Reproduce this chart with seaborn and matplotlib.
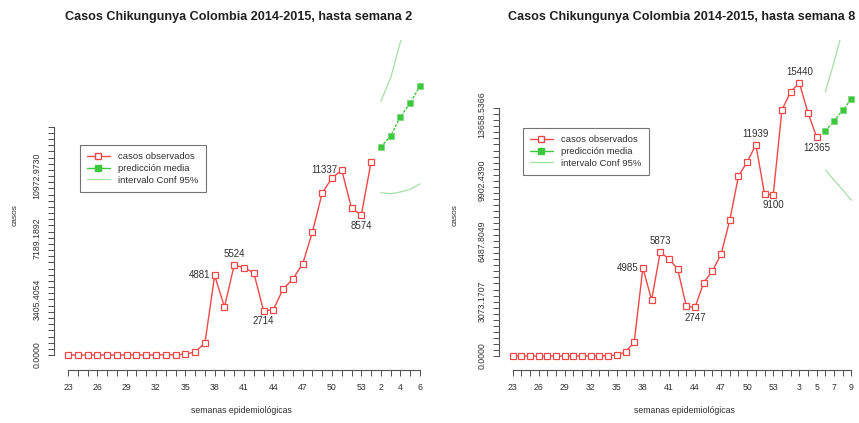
import numpy as np
import pandas as pd
import matplotlib
matplotlib.use("Agg")
import matplotlib.pyplot as plt
import seaborn as sns
from matplotlib.lines import Line2D
from matplotlib.ticker import FixedLocator, FixedFormatter

sns.set_style("white")
plt.rcParams["font.family"] = ["Liberation Sans", "DejaVu Sans"]

# Epidemiological weeks: 23..53 of 2014, then 1..9 of 2015
semanas = list(range(23, 54)) + list(range(1, 10))

# ---- Report up to week 2 ----
obs_a = [0, 0, 0, 0, 0, 0, 0, 0, 0, 2, 8, 16, 52, 180, 736, 4881, 2945, 5524,
         5350, 5050, 2714, 2780, 4049, 4663, 5583, 7546, 9939, 10859, 11337,
         9018, 8574, 11840]
pred_a = [12760, 13440, 14600, 15460, 16500]
upper_a = [15560, 16990, 19200, 20760, 22500]
lower_a = [9960, 9890, 10000, 10160, 10500]
ylabels_a = ["0.0000", "3405.4054", "7189.1892", "10972.9730"]
ylabel_steps_a = [0, 9, 19, 29]
xlabel_pos_a = [0, 3, 6, 9, 12, 15, 18, 21, 24, 27, 30, 32, 34, 36]
marks_a = [(15, "left"), (17, "above"), (20, "below"), (28, "left"), (30, "below")]

# ---- Report up to week 8 ----
obs_b = [0, 0, 0, 0, 0, 0, 0, 0, 0, 2, 8, 20, 56, 226, 790, 4985, 3164, 5873,
         5480, 4915, 2800, 2747, 4150, 4800, 5750, 7680, 10170, 10960, 11939,
         9150, 9100, 13900, 14915, 15440, 13730, 12365]
pred_b = [12712, 13277, 13898, 14520]
upper_b = [14912, 16617, 18418, 20240]
lower_b = [10512, 9937, 9378, 8800]
ylabels_b = ["0.0000", "3073.1707", "6487.8049", "9902.4390", "13658.5366"]
ylabel_steps_b = [0, 9, 19, 29, 40]
xlabel_pos_b = [0, 3, 6, 9, 12, 15, 18, 21, 24, 27, 30, 33, 35, 37, 39]
marks_b = [(15, "left"), (17, "above"), (21, "below"), (28, "above"),
           (30, "below"), (33, "above"), (35, "below")]

RED = "#f04848"
GREEN = "#3cc83c"
CI = "#a6dea6"
TXT = "#303030"
AXC = "#505050"

W, H = 859, 423
fig = plt.figure(figsize=(W / 100, H / 100), dpi=100)


def px_axes(x0, x1, y0, y1):
    return fig.add_axes([x0 / W, 1 - y1 / H, (x1 - x0) / W, (y1 - y0) / H])


def panel(ax, obs, pred, upper, lower, n_pos, n_ytick, ytop, ylabels, ysteps,
          xlab_pos, marks, ylim, title, title_x, ylab_x, legend_xy):
    i_obs = np.arange(len(obs))
    i_pred = np.arange(len(obs), len(obs) + len(pred))
    d_obs = pd.DataFrame({"i": i_obs, "casos": obs})
    d_pred = pd.DataFrame({"i": i_pred, "media": pred, "sup": upper, "inf": lower})

    sns.lineplot(data=d_pred, x="i", y="sup", ax=ax, color=CI, lw=0.9)
    sns.lineplot(data=d_pred, x="i", y="inf", ax=ax, color=CI, lw=0.9)
    sns.lineplot(data=d_obs, x="i", y="casos", ax=ax, color=RED, lw=1.0,
                 marker="s", markersize=4.8, markerfacecolor="white",
                 markeredgecolor=RED, markeredgewidth=0.9)
    sns.lineplot(data=d_pred, x="i", y="media", ax=ax, color=GREEN, lw=1.0,
                 ls=(0, (2, 1)), marker="s", markersize=4.3,
                 markerfacecolor=GREEN, markeredgecolor="#7fd97f",
                 markeredgewidth=0.6)

    # value labels on selected observed points
    offs = {"left": ((-3, 0), "right", "center"),
            "above": ((0, 4), "center", "bottom"),
            "below": ((0, -4), "center", "top")}
    for idx, where in marks:
        (dx, dy), ha, va = offs[where]
        ax.annotate(str(obs[idx]), (idx, obs[idx]), xytext=(dx, dy),
                    textcoords="offset points", ha=ha, va=va,
                    fontsize=7, color=TXT)

    span = n_pos - 1
    ax.set_xlim(-0.04 * span, span * 1.04)
    ax.set_ylim(*ylim)

    # x axis: one tick per week, labels where they fit
    ax.xaxis.set_major_locator(FixedLocator(range(n_pos)))
    xl = [str(semanas[i]) if i in xlab_pos else "" for i in range(n_pos)]
    ax.xaxis.set_major_formatter(FixedFormatter(xl))

    # y axis: evenly spaced ticks, a few labelled
    yt = np.linspace(0, ytop, n_ytick)
    yl = [""] * len(yt)
    for k, lab in zip(ysteps, ylabels):
        yl[k] = lab
    ax.yaxis.set_major_locator(FixedLocator(yt))
    ax.yaxis.set_major_formatter(FixedFormatter(yl))

    for s in ("top", "right"):
        ax.spines[s].set_visible(False)
    ax.spines["left"].set_bounds(0, ytop)
    ax.spines["bottom"].set_bounds(0, span)
    for s in ("left", "bottom"):
        ax.spines[s].set_color(AXC)
        ax.spines[s].set_linewidth(0.8)
    ax.tick_params(axis="both", which="major", bottom=True, left=True,
                   direction="out", length=4, width=0.7,
                   color=AXC, labelsize=6.3, labelcolor=TXT)
    ax.tick_params(axis="y", pad=5)
    ax.tick_params(axis="x", pad=5)
    for t in ax.get_yticklabels():
        t.set_rotation(90)
        t.set_va("center")
    ax.set_xlabel("")
    ax.set_ylabel("")

    fig.text(title_x / W, 1 - 17 / H, title, ha="center", va="center",
             fontsize=9.1, fontweight="bold", color="#202020")
    fig.text(ylab_x / W, 1 - 215 / H, "casos", rotation=90, ha="center",
             va="center", fontsize=6, color=TXT)
    fig.text((title_x + 2) / W, 1 - 410 / H, "semanas epidemiológicas",
             ha="center", va="center", fontsize=6.3, color=TXT)

    handles = [
        Line2D([], [], color=RED, lw=1.0, marker="s", markersize=4,
               markerfacecolor="white", markeredgecolor=RED),
        Line2D([], [], color=GREEN, lw=1.0, marker="s", markersize=4,
               markerfacecolor=GREEN, markeredgecolor=GREEN),
        Line2D([], [], color=CI, lw=0.9),
    ]
    leg = ax.legend(handles, ["casos observados", "predicción media",
                              "intervalo Conf 95%"],
                    loc="upper left",
                    bbox_to_anchor=(legend_xy[0] / W, 1 - legend_xy[1] / H),
                    bbox_transform=fig.transFigure, fontsize=6.8,
                    frameon=True, fancybox=False, handlelength=2.4,
                    handletextpad=0.9, borderpad=0.75, labelspacing=0.3,
                    borderaxespad=0)
    leg.get_frame().set_edgecolor(AXC)
    leg.get_frame().set_linewidth(0.8)
    for t in leg.get_texts():
        t.set_color(TXT)


ax_a = px_axes(54, 434, 40, 370)
panel(ax_a, obs_a, pred_a, upper_a, lower_a, 37, 38, 14000, ylabels_a,
      ylabel_steps_a, xlabel_pos_a, marks_a, (-920, 19325),
      "Casos Chikungunya Colombia 2014-2015, hasta semana 2", 239, 15,
      (80, 145))

ax_b = px_axes(499, 865, 40, 370)
panel(ax_b, obs_b, pred_b, upper_b, lower_b, 40, 42, 14000, ylabels_b,
      ylabel_steps_b, xlabel_pos_b, marks_b, (-791, 17853),
      "Casos Chikungunya Colombia 2014-2015, hasta semana 8", 682, 455,
      (523, 128))

fig.savefig("out.png", dpi=100, facecolor="white")
